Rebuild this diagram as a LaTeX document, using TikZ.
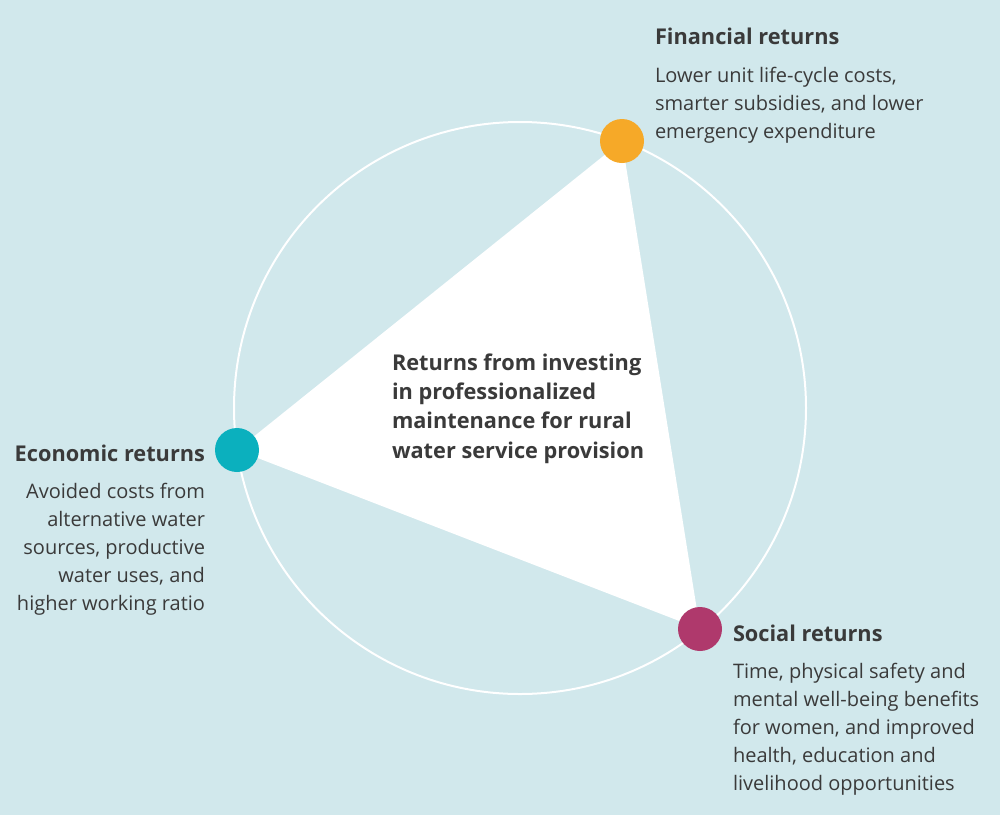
\documentclass[tikz,border=0pt]{standalone}
\usepackage{fontspec}
\setmainfont{Open Sans}
\definecolor{bgblue}{HTML}{D1E8EC}
\definecolor{finorange}{HTML}{F6A928}
\definecolor{ecoteal}{HTML}{0BB0BE}
\definecolor{socmagenta}{HTML}{AF396C}
\definecolor{txtgray}{HTML}{3A3A3A}

\begin{document}
\begin{tikzpicture}[x=0.75pt, y=-0.75pt, every node/.style={text=txtgray, inner sep=0pt, outer sep=0pt}, dot/.style={circle, minimum size=33pt}, title/.style={font=\bfseries\fontsize{16.3}{22}\selectfont}, body/.style={font=\fontsize{15}{21}\selectfont}]
        \fill[bgblue] (0,0) rectangle (1000,815);
        \coordinate (f) at (622,141);
        \coordinate (e) at (237,450);
        \coordinate (s) at (700,629);
        \fill[white] (f) -- (s) -- (e) -- cycle;
        \draw[white, line width=1.5pt] (520,408) circle[radius=286];
        \node[dot, fill=finorange] (fin) at (f) {};
        \node[dot, fill=ecoteal] (eco) at (e) {};
        \node[dot, fill=socmagenta] (soc) at (s) {};
        \node[title, anchor=base west] (fintitle) at (655,44) {Financial returns};
        \node[body, anchor=base west, align=left] (finbody) at (655,138) {Lower unit life-cycle costs,\\ smarter subsidies, and lower\\ emergency expenditure};
        \node[title, anchor=base east] (ecotitle) at (205,461) {Economic returns};
        \node[body, anchor=base east, align=right] (ecobody) at (205,610) {Avoided costs from\\ alternative water\\ sources, productive\\ water uses, and\\ higher working ratio};
        \node[title, anchor=base west] (soctitle) at (733,641) {Social returns};
        \node[body, anchor=base west, align=left] (socbody) at (733,790) {Time, physical safety and\\ mental well-being benefits\\ for women, and improved\\ health, education and\\ livelihood opportunities};
        \node[title, anchor=base west, align=left] (centre) at (392,458) {Returns from investing\\ in professionalized\\ maintenance for rural\\ water service provision};
    \end{tikzpicture}
\end{document}
